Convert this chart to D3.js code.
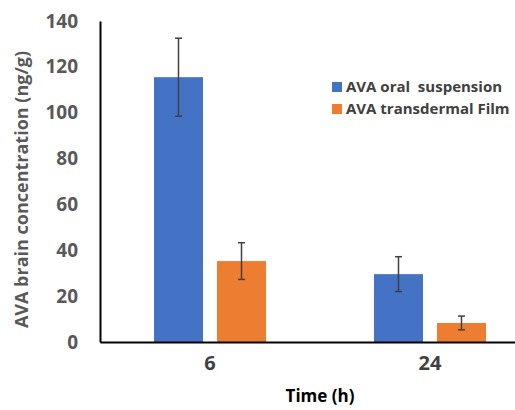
<!DOCTYPE html>
<html>
<head>
<meta charset="utf-8">
<script src="https://cdn.jsdelivr.net/npm/d3@7"></script>
<style>
  body { margin: 0; background: #fff; }
  text { font-family: "Open Sans", sans-serif; }
</style>
</head>
<body>
<div id="chart"></div>
<script>
// data
const times = ['6', '24'];
const seriesNames = ['AVA oral  suspension', 'AVA transdermal Film'];
const oralMeans = [115.5, 29.6];
const oralErr = [17, 7.6];
const filmMeans = [35.3, 8.3];
const filmErr = [8, 3];
const yTicks = [0, 20, 40, 60, 80, 100, 120, 140];

const colors = ['#4472C4', '#ED7D31'];

const width = 515, height = 410;
const margin = { top: 21, left: 100, bottom: 68 };

const svg = d3.select('#chart')
  .append('svg')
  .attr('width', width)
  .attr('height', height);

// x band spans past the right edge, like the original crop
const x = d3.scaleBand()
  .domain(times)
  .range([margin.left, margin.left + 440]);

const xInner = d3.scaleBand()
  .domain(d3.range(seriesNames.length))
  .range([0, x.bandwidth()])
  .paddingInner(0.222)
  .paddingOuter(0.857);

const y = d3.scaleLinear()
  .domain([0, 140])
  .range([height - margin.bottom, margin.top]);

const data = times.map((t, i) => ({
  time: t,
  values: [
    { s: 0, mean: oralMeans[i], err: oralErr[i] },
    { s: 1, mean: filmMeans[i], err: filmErr[i] }
  ]
}));

// bars
const groups = svg.selectAll('g.group')
  .data(data)
  .enter()
  .append('g')
  .attr('class', 'group')
  .attr('transform', d => `translate(${x(d.time)},0)`);

groups.selectAll('rect')
  .data(d => d.values)
  .enter()
  .append('rect')
  .attr('x', d => xInner(d.s))
  .attr('width', xInner.bandwidth())
  .attr('y', d => y(d.mean))
  .attr('height', d => y(0) - y(d.mean))
  .attr('fill', d => colors[d.s]);

// error bars
const errG = groups.selectAll('g.err')
  .data(d => d.values)
  .enter()
  .append('g')
  .attr('class', 'err')
  .attr('stroke', '#404040')
  .attr('stroke-width', 1.5);

errG.append('line')
  .attr('x1', d => xInner(d.s) + xInner.bandwidth() / 2)
  .attr('x2', d => xInner(d.s) + xInner.bandwidth() / 2)
  .attr('y1', d => y(d.mean + d.err))
  .attr('y2', d => y(d.mean - d.err));

[1, -1].forEach(sign => {
  errG.append('line')
    .attr('x1', d => xInner(d.s) + xInner.bandwidth() / 2 - 3.5)
    .attr('x2', d => xInner(d.s) + xInner.bandwidth() / 2 + 3.5)
    .attr('y1', d => y(d.mean + sign * d.err))
    .attr('y2', d => y(d.mean + sign * d.err));
});

// y axis
const yAxis = svg.append('g')
  .attr('transform', `translate(${margin.left},0)`)
  .call(d3.axisLeft(y).tickValues(yTicks).tickSize(0).tickPadding(22));
yAxis.select('.domain').attr('stroke', '#000').attr('stroke-width', 2);
yAxis.selectAll('text')
  .attr('fill', '#595959')
  .attr('font-size', 19)
  .attr('font-weight', 700);

// x axis
const xAxis = svg.append('g')
  .attr('transform', `translate(0,${y(0)})`)
  .call(d3.axisBottom(x).tickSize(0).tickPadding(14));
xAxis.select('.domain').attr('stroke', '#000').attr('stroke-width', 2);
xAxis.selectAll('text')
  .attr('fill', '#404040')
  .attr('font-size', 20)
  .attr('font-weight', 700);

// axis titles
svg.append('text')
  .attr('transform', `translate(28,${(y(0) + y(140)) / 2 + 8}) rotate(-90)`)
  .attr('text-anchor', 'middle')
  .attr('fill', '#595959')
  .attr('font-size', 18)
  .attr('font-weight', 700)
  .text('AVA brain concentration (ng/g)');

svg.append('text')
  .attr('x', 320)
  .attr('y', 402)
  .attr('text-anchor', 'middle')
  .attr('fill', '#000')
  .attr('font-size', 17)
  .attr('font-weight', 700)
  .text('Time (h)');

// legend
const legend = svg.append('g')
  .attr('transform', 'translate(332,82)');

const items = legend.selectAll('g')
  .data(seriesNames)
  .enter()
  .append('g')
  .attr('transform', (d, i) => `translate(0,${i * 22})`);

items.append('rect')
  .attr('width', 10)
  .attr('height', 10)
  .attr('fill', (d, i) => colors[i]);

items.append('text')
  .attr('x', 14)
  .attr('y', 10)
  .attr('fill', '#404040')
  .attr('font-size', 15)
  .attr('font-weight', 700)
  .attr('xml:space', 'preserve')
  .style('white-space', 'pre')
  .text(d => d);
</script>
</body>
</html>
